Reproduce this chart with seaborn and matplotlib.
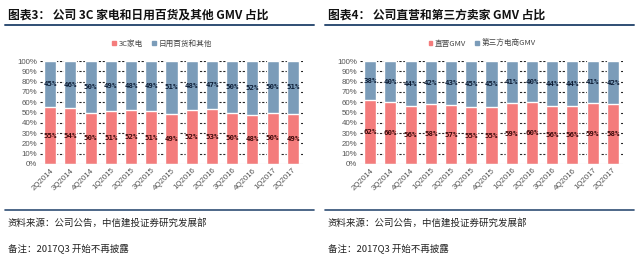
import numpy as np
import seaborn as sns
import matplotlib.pyplot as plt
from matplotlib.patches import Patch
from matplotlib.lines import Line2D

quarters = ['2Q2014', '3Q2014', '4Q2014', '1Q2015', '2Q2015', '3Q2015', '4Q2015',
            '1Q2016', '2Q2016', '3Q2016', '4Q2016', '1Q2017', '2Q2017']

# chart 3: 3C vs daily goods
share_3c = [55, 54, 50, 51, 52, 51, 49, 52, 53, 50, 48, 50, 49]
share_daily = [45, 46, 50, 49, 48, 49, 51, 48, 47, 50, 52, 50, 51]

# chart 4: direct vs third party
share_direct = [62, 60, 56, 58, 57, 55, 55, 59, 60, 56, 56, 59, 58]
share_third = [38, 40, 44, 42, 43, 45, 45, 41, 40, 44, 44, 41, 42]

titles = ['图表3： 公司 3C 家电和日用百货及其他 GMV 占比',
          '图表4： 公司直营和第三方卖家 GMV 占比']
legend_labels = [['3C家电', '日用百货和其他'], ['直营GMV', '第三方电商GMV']]
source_text = '资料来源：公司公告，中信建投证券研究发展部'
note_text = '备注：2017Q3 开始不再披露'

RED = '#F47C7C'
BLUE = '#7B9CB9'

sns.set_theme(style='white')
plt.rcParams['font.family'] = ['Noto Sans CJK SC', 'DejaVu Sans']

fig = plt.figure(figsize=(6.4, 2.65), dpi=100)
W, H = 640, 265


def px_axes(x0, y_top, x1, y_bot):
    return fig.add_axes([x0 / W, 1 - y_bot / H, (x1 - x0) / W, (y_bot - y_top) / H])


panels = [
    (0, share_3c, share_daily),
    (320, share_direct, share_third),
]

for i, (off, bottom, top) in enumerate(panels):
    # header
    fig.text((off + 8) / W, 1 - 15 / H, titles[i], fontsize=8.5, fontweight='bold',
             va='center', ha='left', color='#111111')
    fig.add_artist(Line2D([(off + 5) / W, (off + 314) / W], [1 - 25 / H] * 2,
                          color='#2F4E74', lw=1.4))
    fig.add_artist(Line2D([(off + 5) / W, (off + 314) / W], [1 - 210 / H] * 2,
                          color='#2F4E74', lw=1.2))
    fig.text((off + 8) / W, 1 - 223 / H, source_text, fontsize=6.8, style='italic',
             va='center', ha='left', color='#222222')
    fig.text((off + 8) / W, 1 - 248 / H, note_text, fontsize=6.8, style='italic',
             va='center', ha='left', color='#222222')

    ax = px_axes(off + 40, 61, off + 303, 164)
    total = np.add(bottom, top)
    sns.barplot(x=quarters, y=total, color=BLUE, width=0.6, ax=ax, saturation=1, zorder=3)
    sns.barplot(x=quarters, y=bottom, color=RED, width=0.6, ax=ax, saturation=1, zorder=3)

    for j, (b, t) in enumerate(zip(bottom, top)):
        ax.text(j, b / 2, f'{b}%', ha='center', va='center', fontsize=5.3,
                fontweight='bold', color='#3A0A0A', zorder=5, family='DejaVu Sans Mono')
        ax.text(j, b + t / 2, f'{t}%', ha='center', va='center', fontsize=5.3,
                fontweight='bold', color='#0E1E36', zorder=5, family='DejaVu Sans Mono')

    ax.set_ylim(0, 100)
    ax.set_xlim(-0.5, len(quarters) - 0.5)
    ax.set_yticks(range(0, 101, 10))
    ax.set_yticklabels([f'{v}%' for v in range(0, 101, 10)])
    for v in range(10, 101, 10):
        ax.axhline(v, color='#222222', lw=0.8, ls=(0, (2, 1.5)), zorder=1)
    ax.axhline(0, color='#BBBBBB', lw=0.8, zorder=4)
    for s in ax.spines.values():
        s.set_visible(False)
    ax.tick_params(axis='both', length=0, pad=2, labelsize=5.7, labelcolor='#555555')
    plt.setp(ax.get_xticklabels(), rotation=45, ha='right', rotation_mode='anchor',
             family='Liberation Sans')
    plt.setp(ax.get_yticklabels(), family='Liberation Sans')
    ax.set_xlabel('')
    ax.set_ylabel('')

    handles = [Patch(color=RED), Patch(color=BLUE)]
    fig.legend(handles, legend_labels[i], loc='center',
               bbox_to_anchor=((off + 162) / W, 1 - 44 / H), ncol=2, frameon=False,
               fontsize=5.5, handlelength=0.5, handleheight=0.5, handletextpad=0.3,
               columnspacing=1.2, labelcolor='#444444')

fig.savefig('out.png', dpi=100, facecolor='white')
